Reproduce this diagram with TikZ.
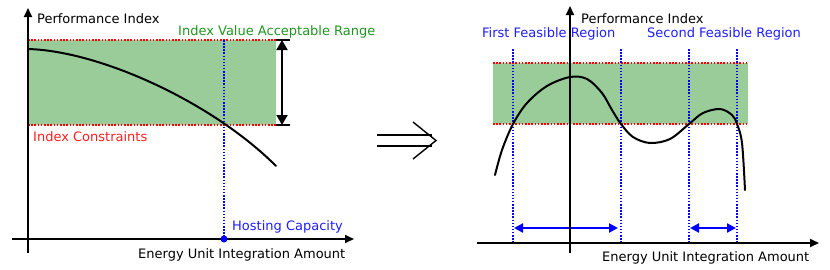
\documentclass[tikz,border=0pt]{standalone}
\usepackage{fontspec}
\setmainfont{DejaVu Sans}
\usetikzlibrary{arrows.meta}
\definecolor{fillgreen}{HTML}{99CC99}
\definecolor{txtgreen}{HTML}{1E961E}
\definecolor{txtred}{HTML}{FF1E1E}
\definecolor{txtblue}{HTML}{1E1EFF}
\definecolor{lineblue}{HTML}{0000FF}
\begin{document}
\begin{tikzpicture}[x=1pt,y=-1pt,
  axis/.style={line width=1.8pt,-{Triangle[length=9pt,width=8pt]}},
  reddot/.style={red,line width=1.8pt,dash pattern=on 1.6pt off 1.6pt},
  bluedot/.style={lineblue,line width=1.6pt,dash pattern=on 1.5pt off 1.6pt},
  curve/.style={line width=2pt,line cap=round},
  lbl/.style={inner sep=0pt,anchor=base west,font=\fontsize{13pt}{15pt}\selectfont},
  dblblue/.style={lineblue,line width=2.2pt,{Triangle[length=9pt,width=9pt]}-{Triangle[length=9pt,width=9pt]}}
]
\useasboundingbox (0,0) rectangle (830,269);
% ---------- left panel ----------
\fill[fillgreen] (28,40) rectangle (276,125);
\draw[reddot] (28,40) -- (276,40);
\draw[reddot] (28,125) -- (276,125);
\draw[line width=1.6pt] (276,40) -- (290,40);
\draw[line width=1.6pt] (276,125) -- (290,125);
\coordinate (rt) at (282,40);
\coordinate (rb) at (282,125);
\draw[line width=2pt,{Triangle[length=10pt,width=11pt]}-{Triangle[length=10pt,width=11pt]}] (rt) -- (rb);
\coordinate (hc) at (224,239);
\coordinate (hctop) at (224,40);
\draw[bluedot] (hctop) -- (hc);
\coordinate (c0) at (28,49);
\coordinate (c1) at (276,166);
\draw[curve] (c0) .. controls (100,51) and (212,102) .. (c1);
\coordinate (lxs) at (12,239);
\coordinate (lxe) at (354,239);
\coordinate (lys) at (28,253);
\coordinate (lye) at (28,8);
\draw[axis] (lxs) -- (lxe);
\draw[axis] (lys) -- (lye);
\fill[lineblue] (hc) circle (3.5pt);
\node[lbl] (lpi) at (37,23) {Performance Index};
\node[lbl,text=txtgreen] (lrange) at (178,35) {Index Value Acceptable Range};
\node[lbl,text=txtred] (lcons) at (33,141) {Index Constraints};
\node[lbl,text=txtblue] (lhost) at (232,230) {Hosting Capacity};
\node[lbl] (leu) at (138,258) {Energy Unit Integration Amount};
% ---------- implication arrow ----------
\draw[line width=1.4pt] (377,135) -- (432,135);
\draw[line width=1.4pt] (377,146) -- (432,146);
\draw[line width=1.4pt,line join=miter] (413,122) -- (436,140.5) -- (413,159);
% ---------- right panel ----------
\fill[fillgreen] (493,63) rectangle (748,124);
\draw[reddot] (493,63) -- (748,63);
\draw[reddot] (493,124) -- (748,124);
\foreach \xx in {513,621,689,737} {
  \draw[bluedot] (\xx,49) -- (\xx,243);
}
\draw[curve] plot[smooth,tension=0.55] coordinates {(495,175) (502,150) (513,124) (527,103) (547,86) (570,77) (587,79) (602,93) (612,110) (621,124) (633,137) (650,143) (670,139) (689,124) (703,113) (720,109) (732,115) (737,124) (742,143) (745,190)};
\coordinate (a1) at (514,228);
\coordinate (a2) at (618,228);
\coordinate (a3) at (690,228);
\coordinate (a4) at (736,228);
\draw[dblblue] (a1) -- (a2);
\draw[dblblue] (a3) -- (a4);
\coordinate (rxs) at (477,243);
\coordinate (rxe) at (819,243);
\coordinate (rys) at (570,253);
\coordinate (rye) at (570,6);
\draw[axis] (rxs) -- (rxe);
\draw[axis] (rys) -- (rye);
\node[lbl] (rpi) at (581,23) {Performance Index};
\node[lbl,text=txtblue] (rfirst) at (482,37) {First Feasible Region};
\node[lbl,text=txtblue] (rsecond) at (647,37) {Second Feasible Region};
\node[lbl] (reu) at (602,261) {Energy Unit Integration Amount};
\end{tikzpicture}
\end{document}
